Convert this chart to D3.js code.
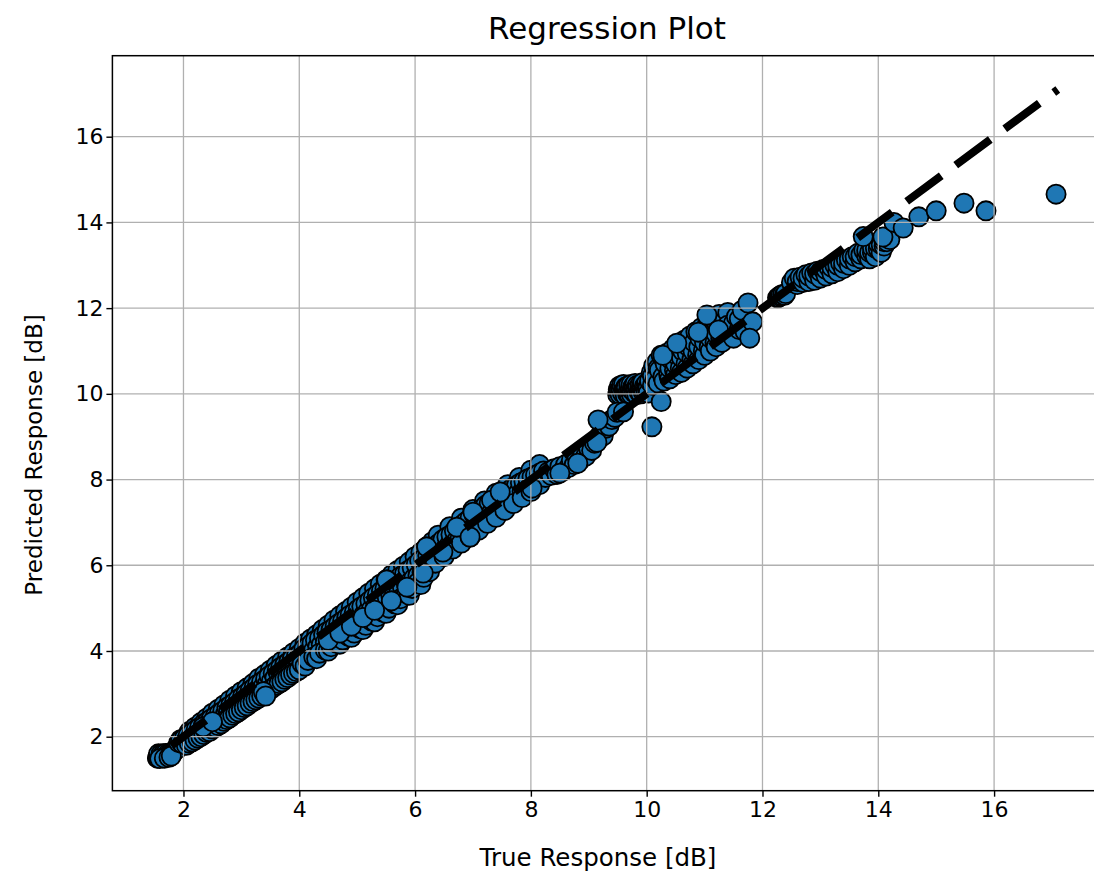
<!DOCTYPE html>
<html><head><meta charset="utf-8">
<script src="https://cdn.jsdelivr.net/npm/d3@7"></script>
<style>
body{margin:0;background:#fff;}
svg{display:block;}
text{font-family:"DejaVu Sans",sans-serif;fill:#000;}
</style>
</head><body>
<svg id="chart" width="1094" height="877"></svg>
<script>
// ---------- data: [true response, predicted response] in dB ----------
const xTicks = [2, 4, 6, 8, 10, 12, 14, 16];
const yTicks = [2, 4, 6, 8, 10, 12, 14, 16];
const identityLine = [1.55, 17.1];

const clusterLow = [[1.55,1.50],[1.56,1.53],[1.58,1.55],[1.60,1.52],[1.62,1.56],[1.64,1.51],[1.66,1.55],[1.68,1.53],[1.70,1.56],[1.72,1.54],[1.74,1.57],[1.57,1.60],[1.61,1.59],[1.65,1.60],[1.69,1.61],[1.73,1.60],[1.76,1.58],[1.78,1.62],[1.80,1.60],[1.82,1.64],[1.84,1.66],[1.86,1.70],[1.88,1.74],[1.90,1.72],[1.59,1.49],[1.67,1.50],[1.75,1.52],[1.79,1.55]];

const bandLowOver = [[1.95,1.93],[2.10,2.12],[2.20,2.22],[2.30,2.33],[2.40,2.43],[2.50,2.55],[2.60,2.64],[2.70,2.74],[2.80,2.85],[2.90,2.95],[3.00,3.05],[3.10,3.14],[3.20,3.24],[3.30,3.36],[3.40,3.45],[3.50,3.55],[3.60,3.66],[3.70,3.76],[3.80,3.86],[3.90,3.96],[4.00,4.06]];

const bandLow = [[1.92,1.86],[1.95,1.90],[1.98,1.84],[2.02,1.97],[2.05,1.92],[2.08,2.03],[2.12,1.98],[2.15,2.10],[2.18,2.02],[2.22,2.17],[2.25,2.10],[2.28,2.22],[2.32,2.15],[2.35,2.30],[2.38,2.22],[2.42,2.36],[2.45,2.28],[2.48,2.42],[2.52,2.33],[2.55,2.48],[2.58,2.40],[2.62,2.55],[2.65,2.45],[2.68,2.60],[2.72,2.52],[2.75,2.68],[2.78,2.58],[2.82,2.74],[2.85,2.64],[2.88,2.80],[2.92,2.70],[2.95,2.88],[2.98,2.78],[3.02,2.94],[3.05,2.84],[3.08,3.00],[3.12,2.90],[3.15,3.08],[3.18,2.98],[3.22,3.15],[3.25,3.04],[3.28,3.22],[3.32,3.10],[3.35,3.28],[3.38,3.18],[3.42,3.35],[3.45,3.24],[3.48,3.42],[3.52,3.30],[3.55,3.48],[3.58,3.38],[3.62,3.55],[3.65,3.44],[3.68,3.62],[3.72,3.50],[3.75,3.68],[3.78,3.58],[3.82,3.75],[3.85,3.64],[3.88,3.82],[3.92,3.70],[3.95,3.88],[3.98,3.78]];

const bandLowUnder = [[2.05,1.80],[2.10,1.85],[2.15,1.88],[2.20,1.92],[2.25,1.97],[2.30,2.00],[2.35,2.05],[2.40,2.10],[2.45,2.12],[2.50,2.18],[2.55,2.22],[2.60,2.26],[2.65,2.30],[2.70,2.36],[2.75,2.40],[2.80,2.44],[2.85,2.50],[2.90,2.54],[2.95,2.58],[3.00,2.63],[3.05,2.68],[3.10,2.72],[3.15,2.78],[3.20,2.82],[3.25,2.86],[3.30,2.90],[3.35,2.95],[3.40,3.00],[3.45,3.06],[3.50,3.10],[3.55,3.15],[3.60,3.20],[3.65,3.24],[3.70,3.28],[3.75,3.34],[3.80,3.38],[3.85,3.44],[3.90,3.48],[3.95,3.52],[4.00,3.56]];

const bandMidOver = [[4.10,4.18],[4.20,4.28],[4.30,4.38],[4.40,4.50],[4.50,4.60],[4.60,4.72],[4.70,4.82],[4.80,4.92],[4.90,5.02],[5.00,5.14],[5.10,5.24],[5.20,5.35],[5.30,5.45],[5.40,5.56],[5.50,5.66],[5.60,5.78],[5.70,5.88],[5.80,5.98],[5.90,6.08],[6.00,6.20],[6.10,6.30],[6.20,6.42],[6.30,6.55]];

const bandMid = [[4.02,3.95],[4.05,3.85],[4.08,4.05],[4.12,3.92],[4.15,4.10],[4.18,3.98],[4.22,4.18],[4.25,4.02],[4.28,4.25],[4.32,4.10],[4.35,4.30],[4.38,4.15],[4.42,4.38],[4.45,4.20],[4.48,4.45],[4.52,4.28],[4.55,4.50],[4.58,4.33],[4.62,4.58],[4.65,4.40],[4.68,4.64],[4.72,4.47],[4.75,4.70],[4.78,4.52],[4.82,4.78],[4.85,4.60],[4.88,4.84],[4.92,4.66],[4.95,4.90],[4.98,4.72],[5.02,4.98],[5.05,4.80],[5.08,5.04],[5.12,4.86],[5.15,5.10],[5.18,4.92],[5.22,5.18],[5.25,4.98],[5.28,5.25],[5.32,5.05],[5.35,5.32],[5.38,5.12],[5.42,5.40],[5.45,5.18],[5.48,5.46],[5.52,5.25],[5.55,5.52],[5.58,5.30],[5.62,5.60],[5.65,5.38],[5.68,5.66],[5.72,5.44],[5.75,5.74],[5.78,5.50],[5.82,5.80],[5.85,5.56],[5.88,5.88],[5.92,5.62],[5.95,5.94],[5.98,5.70],[6.02,6.02],[6.05,5.76],[6.08,6.10],[6.12,5.84],[6.15,6.16],[6.18,5.90],[6.22,6.22],[6.25,5.98]];

const bandMidUnder = [[4.05,3.70],[4.10,3.65],[4.15,3.78],[4.25,3.86],[4.30,3.82],[4.35,3.95],[4.45,4.02],[4.50,4.00],[4.55,4.10],[4.65,4.18],[4.70,4.16],[4.75,4.26],[4.85,4.34],[4.90,4.32],[4.95,4.42],[5.05,4.52],[5.10,4.50],[5.15,4.60],[5.25,4.70],[5.30,4.68],[5.35,4.80],[5.45,4.90],[5.50,4.88],[5.55,5.00],[5.65,5.10],[5.70,5.08],[5.75,5.22],[5.85,5.34],[5.90,5.30],[5.95,5.46],[6.05,5.60],[6.10,5.55],[6.15,5.72],[6.25,5.85]];

const bandUpperOver = [[6.40,6.70],[6.60,6.90],[6.80,7.10],[7.00,7.30],[7.20,7.50],[7.40,7.68],[7.60,7.88],[7.80,8.05],[8.00,8.22],[8.15,8.35]];

const bandUpper = [[6.28,6.35],[6.32,6.10],[6.35,6.45],[6.38,6.20],[6.42,6.52],[6.45,6.28],[6.48,6.60],[6.52,6.38],[6.55,6.66],[6.58,6.45],[6.62,6.72],[6.65,6.50],[6.68,6.80],[6.72,6.58],[6.75,6.88],[6.78,6.65],[6.82,6.95],[6.85,6.70],[6.88,7.02],[6.92,6.78],[6.95,7.10],[6.98,6.85],[7.02,7.18],[7.05,6.92],[7.08,7.25],[7.12,7.00],[7.15,7.32],[7.18,7.08],[7.22,7.40],[7.25,7.15],[7.28,7.45],[7.32,7.22],[7.35,7.50],[7.38,7.30],[7.42,7.55],[7.45,7.36],[7.48,7.60],[7.52,7.42],[7.55,7.68],[7.58,7.50],[7.62,7.74],[7.65,7.55],[7.68,7.80],[7.72,7.62],[7.75,7.86],[7.78,7.68],[7.82,7.92],[7.85,7.72],[7.88,7.96],[7.92,7.78],[7.95,8.02],[7.98,7.82],[8.02,8.06],[8.05,7.86],[8.08,8.10],[8.12,7.92],[8.15,8.15],[8.18,7.98],[8.22,8.20]];

const bandUpperUnder = [[6.35,6.05],[6.50,6.20],[6.65,6.38],[6.80,6.52],[6.95,6.66],[7.10,6.82],[7.25,6.98],[7.40,7.12],[7.55,7.28],[7.70,7.44],[7.85,7.58],[8.00,7.72],[8.15,7.88]];

const bandNine = [[8.25,8.05],[8.30,8.18],[8.35,8.10],[8.40,8.25],[8.45,8.12],[8.50,8.30],[8.55,8.20],[8.60,8.35],[8.65,8.28],[8.70,8.45],[8.75,8.35],[8.80,8.52],[8.85,8.45],[8.90,8.62],[8.95,8.55],[9.00,8.72],[9.05,8.68],[9.10,8.85],[9.15,8.90],[9.20,9.05],[9.25,9.02],[9.30,9.20],[9.35,9.25],[9.40,9.40],[9.45,9.45]];

const stepCluster = [[9.50,9.98],[9.51,10.10],[9.53,10.18],[9.52,10.05],[9.54,9.99],[9.55,10.12],[9.57,10.20],[9.58,10.02],[9.60,10.22],[9.61,10.08],[9.62,10.10],[9.63,9.96],[9.64,10.16],[9.65,10.15],[9.67,10.00],[9.68,10.04],[9.69,10.20],[9.70,9.98],[9.71,10.06],[9.72,10.12],[9.73,10.22],[9.74,9.98],[9.75,10.08],[9.76,10.16],[9.78,10.18],[9.79,10.02],[9.80,10.24],[9.81,10.12],[9.82,10.06],[9.83,9.98],[9.84,10.20],[9.85,10.14],[9.87,10.04],[9.88,10.10],[9.89,10.22],[9.90,10.00],[9.91,10.14],[9.92,10.20],[9.93,10.26],[9.94,10.04],[9.95,10.08],[9.96,10.18],[9.98,10.16],[9.99,10.06],[10.00,10.25],[10.01,10.14],[10.02,10.12],[10.03,10.02]];

const bandHigh = [[10.05,10.30],[10.08,10.50],[10.10,10.20],[10.10,10.42],[10.12,10.65],[10.15,10.35],[10.18,10.75],[10.20,10.25],[10.20,10.60],[10.22,10.55],[10.25,10.90],[10.28,10.40],[10.30,10.30],[10.30,10.80],[10.32,10.70],[10.35,10.95],[10.38,10.45],[10.40,10.35],[10.40,10.60],[10.42,10.80],[10.45,11.05],[10.48,10.55],[10.50,10.45],[10.50,10.70],[10.52,10.90],[10.55,11.15],[10.58,10.60],[10.60,10.50],[10.60,10.85],[10.62,11.00],[10.65,11.25],[10.68,10.70],[10.70,10.60],[10.70,10.95],[10.72,11.10],[10.75,11.35],[10.78,10.80],[10.80,10.70],[10.80,11.00],[10.82,11.20],[10.85,11.45],[10.88,10.90],[10.90,10.80],[10.90,11.10],[10.92,11.30],[10.95,11.55],[10.98,11.00],[11.00,10.90],[11.00,11.20],[11.02,11.40],[11.05,11.65],[11.08,11.10],[11.10,11.00],[11.10,11.30],[11.12,11.50],[11.15,11.75],[11.18,11.20],[11.20,11.10],[11.20,11.40],[11.22,11.60],[11.25,11.85],[11.28,11.30],[11.30,11.20],[11.30,11.50],[11.35,11.70],[11.40,11.90],[11.40,11.60],[11.45,11.40],[11.50,11.30],[11.50,11.65],[11.55,11.80],[11.60,11.50],[11.60,11.75],[11.65,11.95],[11.70,11.45]];

const blobTwelve = [[12.26,12.24],[12.28,12.25],[12.30,12.28],[12.32,12.30],[12.35,12.32],[12.38,12.30],[12.40,12.34]];

const streakHigh = [[12.50,12.60],[12.55,12.70],[12.60,12.55],[12.60,12.62],[12.65,12.72],[12.70,12.60],[12.70,12.70],[12.75,12.78],[12.80,12.62],[12.80,12.75],[12.85,12.82],[12.90,12.65],[12.90,12.80],[12.95,12.86],[13.00,12.70],[13.00,12.85],[13.05,12.90],[13.10,12.75],[13.10,12.90],[13.15,12.95],[13.20,12.80],[13.20,12.95],[13.25,13.00],[13.30,12.85],[13.30,13.00],[13.35,13.05],[13.40,12.92],[13.40,13.05],[13.45,13.12],[13.50,13.00],[13.50,13.15],[13.55,13.20],[13.60,13.08],[13.60,13.20],[13.65,13.28],[13.70,13.15],[13.70,13.25],[13.75,13.35],[13.80,13.22],[13.80,13.35],[13.85,13.15],[13.85,13.30],[13.90,13.30],[13.90,13.40],[13.95,13.20],[13.95,13.40],[14.00,13.38],[14.00,13.50],[14.05,13.30],[14.05,13.48],[14.10,13.45],[14.10,13.55],[14.15,13.55],[14.20,13.60]];

const edgePoints = [[2.34,2.23],[2.50,2.35],[3.38,3.05],[3.42,2.95],[4.50,4.25],[4.70,4.42],[4.90,4.58],[5.10,4.78],[5.30,4.95],[5.51,5.66],[5.59,5.17],[5.86,5.49],[6.14,5.82],[6.20,6.43],[6.48,6.31],[6.72,6.89],[7.00,7.24],[7.32,7.52],[6.95,6.66],[7.47,7.71],[8.02,7.80],[8.50,8.15],[8.81,8.38],[9.14,8.87],[9.16,9.39],[9.49,9.57],[9.60,9.58],[10.09,9.23],[10.25,9.82],[10.28,10.90],[10.52,11.18],[10.89,11.44],[11.04,11.84],[11.24,11.49],[11.75,12.12],[11.83,11.68],[11.78,11.30],[13.74,13.67],[14.08,13.66],[14.27,14.00],[14.43,13.87],[14.70,14.13],[15.00,14.27],[15.48,14.45],[15.86,14.27],[17.07,14.66]];

const samples = [].concat(clusterLow, bandLowOver, bandLow, bandLowUnder, bandMidOver, bandMid, bandMidUnder,
  bandUpperOver, bandUpper, bandUpperUnder, bandNine, stepCluster, bandHigh, blobTwelve, streakHigh, edgePoints);

// ---------- layout ----------
const W = 1094, H = 877;
const plot = {left: 112.4, right: 1102.8, top: 55.7, bottom: 790.7};
const x = d3.scaleLinear().domain([0.7725, 17.8775]).range([plot.left, plot.right]);
const y = d3.scaleLinear().domain([0.74, 17.89]).range([plot.bottom, plot.top]);

const svg = d3.select('#chart');
svg.append('rect').attr('width', W).attr('height', H).attr('fill', '#fff');
svg.append('defs').append('clipPath').attr('id', 'plotclip')
  .append('rect').attr('x', plot.left).attr('y', plot.top)
  .attr('width', plot.right - plot.left).attr('height', plot.bottom - plot.top);

const inner = svg.append('g').attr('clip-path', 'url(#plotclip)');

// scatter
inner.append('g').selectAll('circle').data(samples).join('circle')
  .attr('cx', d => x(d[0])).attr('cy', d => y(d[1])).attr('r', 9.6)
  .attr('fill', '#1f77b4').attr('stroke', '#000').attr('stroke-width', 1.8);

// grid (drawn over the scatter, like matplotlib's default zorder)
inner.append('g').selectAll('line').data(xTicks).join('line')
  .attr('x1', d => x(d)).attr('x2', d => x(d)).attr('y1', plot.top).attr('y2', plot.bottom)
  .attr('stroke', '#b0b0b0').attr('stroke-width', 1.3);
inner.append('g').selectAll('line').data(yTicks).join('line')
  .attr('y1', d => y(d)).attr('y2', d => y(d)).attr('x1', plot.left).attr('x2', plot.right)
  .attr('stroke', '#b0b0b0').attr('stroke-width', 1.3);

// identity dashed line
inner.append('line')
  .attr('x1', x(identityLine[0])).attr('y1', y(identityLine[0]))
  .attr('x2', x(identityLine[1])).attr('y2', y(identityLine[1]))
  .attr('stroke', '#000').attr('stroke-width', 8)
  .attr('stroke-dasharray', '43,18').attr('stroke-dashoffset', 43.8);

// spines
svg.append('rect').attr('x', plot.left).attr('y', plot.top)
  .attr('width', plot.right - plot.left).attr('height', plot.bottom - plot.top)
  .attr('fill', 'none').attr('stroke', '#000').attr('stroke-width', 1.5);

// axes
const xAxis = svg.append('g').attr('transform', `translate(0,${plot.bottom})`)
  .call(d3.axisBottom(x).tickValues(xTicks).tickSize(6).tickPadding(5).tickFormat(d3.format('d')));
const yAxis = svg.append('g').attr('transform', `translate(${plot.left},0)`)
  .call(d3.axisLeft(y).tickValues(yTicks).tickSize(6).tickPadding(3).tickFormat(d3.format('d')));
[xAxis, yAxis].forEach(a => {
  a.select('.domain').remove();
  a.selectAll('.tick line').attr('stroke', '#000').attr('stroke-width', 1.4);
  a.selectAll('.tick text').attr('font-family', 'DejaVu Sans').attr('font-size', 22).attr('fill', '#222');
});

// titles
svg.append('text').attr('x', 607).attr('y', 39)
  .attr('text-anchor', 'middle').attr('font-size', 31).attr('fill', '#222').text('Regression Plot');
svg.append('text').attr('x', 598).attr('y', 866)
  .attr('text-anchor', 'middle').attr('font-size', 24.5).attr('fill', '#222').text('True Response [dB]');
svg.append('text').attr('transform', 'translate(42,455) rotate(-90)')
  .attr('text-anchor', 'middle').attr('font-size', 23).attr('fill', '#222').text('Predicted Response [dB]');
</script>
</body></html>
